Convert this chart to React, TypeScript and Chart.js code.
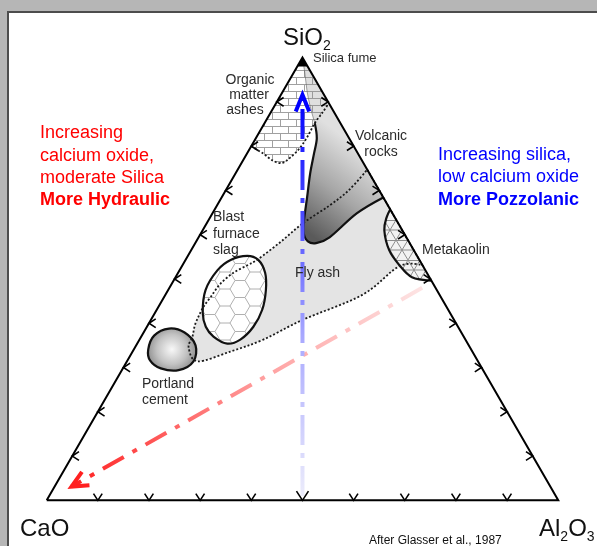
import React, { useEffect, useRef } from "react";
import { Chart, registerables } from "chart.js";

Chart.register(...registerables);

// Ternary compositions in percent: [CaO, SiO2, Al2O3]
type Tern = [number, number, number];

const TICKS = [10, 20, 30, 40, 50, 60, 70, 80, 90];
const TRIANGLE: Tern[] = [[100, 0, 0], [0, 0, 100], [0, 100, 0], [100, 0, 0]];

const SILICA_FUME: Tern[] = [[0, 100, 0], [2, 98, 0], [0, 98, 2]];

const ORGANIC_ASHES: Tern[] = [
  [20, 80, 0], [18.5, 78.3, 3.2], [17.4, 76.7, 5.9], [15.9, 76.2, 7.9], [13.7, 77.4, 8.9],
  [10.7, 79.6, 9.7], [7.8, 82.3, 9.9], [5.0, 85.2, 9.8], [2.5, 87.4, 10.1], [0, 89.7, 10.3], [0, 100, 0],
];

const VOLCANIC_ROCKS: Tern[] = [
  [5.0, 85.2, 9.8], [6.3, 81.8, 11.9], [8.6, 78.3, 13.1], [11.6, 73.8, 14.6], [14.9, 68.4, 16.7],
  [18.1, 63.2, 18.7], [19.6, 60.3, 20.1], [19.7, 58.5, 21.8], [18.3, 58.1, 23.6], [15.0, 59.4, 25.6],
  [7.0, 64.8, 28.2], [0, 68.4, 31.6], [0, 89.7, 10.3], [2.5, 87.4, 10.1],
];

const VOLCANIC_UPPER: Tern[] = [
  [0, 100, 0], [1.4, 96.2, 2.4], [2.9, 92.4, 4.7], [4.0, 89.0, 7.0], [5.0, 85.2, 9.8], [2.5, 87.4, 10.1], [0, 89.7, 10.3],
];

const FLY_ASH: Tern[] = [
  [53.0, 37.0, 10.0], [51.3, 39.5, 9.2], [49.4, 41.7, 8.9], [47.5, 43.7, 8.8], [44.9, 46.0, 9.1],
  [41.6, 48.9, 9.5], [37.8, 51.4, 10.8], [34.2, 53.1, 12.7], [31.4, 54.5, 14.1], [25.2, 58.3, 16.5],
  [18.6, 62.6, 18.8], [11.4, 66.6, 22.0], [5.7, 70.2, 24.1], [0, 74.7, 25.3], [0, 53.1, 46.9],
  [4.6, 52.9, 42.5], [15.1, 46.4, 38.5], [29.5, 40.8, 29.7], [39.5, 36.3, 24.2], [47.3, 33.6, 19.1],
  [54.8, 31.4, 13.8], [55.0, 34.5, 10.5],
];

const METAKAOLIN: Tern[] = [
  [0, 65.7, 34.3], [1.6, 63.9, 34.5], [3.5, 61.0, 35.5], [4.8, 56.5, 38.7], [4.5, 53.1, 42.4],
  [3.3, 50.4, 46.2], [0, 49.6, 50.4],
];

const BLAST_FURNACE_SLAG: Tern[] = [
  [48.3, 42.4, 9.3], [45.2, 47.5, 7.3], [40.6, 52.0, 7.4], [36.9, 54.3, 8.8], [33.2, 55.2, 11.6],
  [31.5, 54.3, 14.2], [31.6, 51.4, 17.0], [33.4, 47.5, 19.1], [36.3, 43.1, 20.6], [40.0, 39.2, 20.8],
  [44.0, 36.3, 19.7], [47.0, 35.4, 17.6], [48.9, 37.0, 14.1], [49.3, 39.2, 11.5],
];

const PORTLAND_CEMENT: Tern[] = [
  [63.1, 34.1, 2.8], [60.4, 37.2, 2.4], [56.7, 38.8, 4.5], [54.1, 37.9, 8.0], [53.4, 35.0, 11.6],
  [55.6, 31.4, 13.0], [59.5, 29.4, 11.1], [62.8, 29.8, 7.4], [64.0, 31.6, 4.4],
];

const BLUE_ARROW: Tern[] = [[49.5, 1.0, 49.5], [4.2, 91.6, 4.2]];
const RED_ARROW: Tern[] = [[2.6, 48.0, 49.4], [93.6, 3.1, 3.3]];

const toXY = (t: Tern) => ({ x: (t[2] + t[1] / 2) / 100, y: t[1] / 100 });

// ---- layout ----
const W = 597;
const H = 546;
const FONT = "'Liberation Sans', Arial, sans-serif";

type Region = {
  name: string;
  data: Tern[];
  fill: string;
  corners: number[];
  stroke?: "solid" | "faint";
  strokeSegs?: number;
};

const REGIONS: Region[] = [
  { name: "Fly ash", data: FLY_ASH, fill: "flyash", corners: [13, 14] },
  { name: "Organic matter ashes", data: ORGANIC_ASHES, fill: "bricks", corners: [0, 9, 10] },
  { name: "Volcanic rocks", data: VOLCANIC_ROCKS, fill: "volcanic", corners: [0, 11, 12], stroke: "solid", strokeSegs: 11 },
  { name: "Volcanic (upper)", data: VOLCANIC_UPPER, fill: "wash", corners: [0, 4, 6], stroke: "faint", strokeSegs: 4 },
  { name: "Metakaolin", data: METAKAOLIN, fill: "meta", corners: [0, 6], stroke: "solid", strokeSegs: 6 },
  { name: "Blast furnace slag", data: BLAST_FURNACE_SLAG, fill: "hex", corners: [], stroke: "solid" },
  { name: "Portland cement", data: PORTLAND_CEMENT, fill: "portland", corners: [], stroke: "solid" },
  { name: "Silica fume", data: SILICA_FUME, fill: "black", corners: [0, 1, 2] },
];
const DOTTED = ["Fly ash", "Organic matter ashes"];
const DOTTED_SEGS: Record<string, number | undefined> = { "Fly ash": undefined, "Organic matter ashes": 9 };

type P = { x: number; y: number };

function splinePath(ctx: CanvasRenderingContext2D, pts: P[], corners: number[], segs?: number) {
  const n = pts.length;
  const tan = pts.map((_, i) => {
    if (corners.includes(i)) return { x: 0, y: 0 };
    const a = pts[(i - 1 + n) % n];
    const b = pts[(i + 1) % n];
    return { x: (b.x - a.x) / 6, y: (b.y - a.y) / 6 };
  });
  ctx.beginPath();
  ctx.moveTo(pts[0].x, pts[0].y);
  const count = segs === undefined ? n : segs;
  for (let i = 0; i < count; i++) {
    const a = pts[i];
    const b = pts[(i + 1) % n];
    const ta = tan[i];
    const tb = tan[(i + 1) % n];
    ctx.bezierCurveTo(a.x + ta.x, a.y + ta.y, b.x - tb.x, b.y - tb.y, b.x, b.y);
  }
  if (segs === undefined) ctx.closePath();
}

function makePattern(ctx: CanvasRenderingContext2D, w: number, h: number, bg: string, draw: (g: CanvasRenderingContext2D) => void) {
  const c = document.createElement("canvas");
  c.width = w;
  c.height = h;
  const g = c.getContext("2d")!;
  if (bg) {
    g.fillStyle = bg;
    g.fillRect(0, 0, w, h);
  }
  draw(g);
  return ctx.createPattern(c, "repeat")!;
}

function bbox(pts: P[]) {
  const xs = pts.map((p) => p.x);
  const ys = pts.map((p) => p.y);
  return { x0: Math.min(...xs), x1: Math.max(...xs), y0: Math.min(...ys), y1: Math.max(...ys) };
}

const REGION_OFFSET = 3; // datasets 0..2 are arrows + triangle

const diagramPlugin = {
  id: "ternaryDiagram",
  beforeDraw(chart: any) {
    const ctx: CanvasRenderingContext2D = chart.ctx;
    ctx.save();
    ctx.fillStyle = "#b6b6b6";
    ctx.fillRect(0, 0, W, H);
    ctx.fillStyle = "#ffffff";
    ctx.fillRect(8, 12, W - 8, H - 12);
    ctx.strokeStyle = "#4d4d4d";
    ctx.lineWidth = 2;
    ctx.beginPath();
    ctx.moveTo(8, H);
    ctx.lineTo(8, 12);
    ctx.lineTo(W, 12);
    ctx.stroke();
    ctx.restore();
  },
  beforeDatasetsDraw(chart: any) {
    const ctx: CanvasRenderingContext2D = chart.ctx;
    const pats: Record<string, any> = {
      bricks: makePattern(ctx, 16, 14, "#ffffff", (g) => {
        g.strokeStyle = "#a0a0a0";
        g.lineWidth = 1;
        g.beginPath();
        g.moveTo(0, 0.5); g.lineTo(16, 0.5);
        g.moveTo(0, 7.5); g.lineTo(16, 7.5);
        g.moveTo(0.5, 0); g.lineTo(0.5, 7.5);
        g.moveTo(8.5, 7.5); g.lineTo(8.5, 14);
        g.stroke();
      }),
      hex: makePattern(ctx, 30, 17, "#ffffff", (g) => {
        const s = 10, h = 17;
        g.strokeStyle = "#b0b0b0";
        g.lineWidth = 1;
        g.beginPath();
        g.moveTo(0, h / 2); g.lineTo(0.5 * s, h / 2);
        g.lineTo(s, 0); g.lineTo(2 * s, 0); g.lineTo(2.5 * s, h / 2);
        g.lineTo(2 * s, h); g.lineTo(s, h); g.lineTo(0.5 * s, h / 2);
        g.moveTo(2.5 * s, h / 2); g.lineTo(3 * s, h / 2);
        g.stroke();
      }),
      meta: makePattern(ctx, 12, 20, "#f2f2f2", (g) => {
        g.strokeStyle = "#8c8c8c";
        g.lineWidth = 1;
        g.beginPath();
        g.moveTo(0, 0); g.lineTo(12, 20);
        g.moveTo(12, 0); g.lineTo(0, 20);
        g.moveTo(0, 0.5); g.lineTo(12, 0.5);
        g.moveTo(0, 10); g.lineTo(12, 10);
        g.stroke();
      }),
    };
    const ptsOf = (i: number): P[] => chart.getDatasetMeta(i + REGION_OFFSET).data.map((e: any) => ({ x: e.x, y: e.y }));

    ctx.save();
    REGIONS.forEach((r, i) => {
      const pts = ptsOf(i);
      const b = bbox(pts);
      splinePath(ctx, pts, r.corners);
      let fs: any = "#e3e3e3";
      if (r.fill === "flyash") fs = "#e4e4e4";
      else if (r.fill === "bricks" || r.fill === "hex" || r.fill === "meta") fs = pats[r.fill];
      else if (r.fill === "volcanic") {
        const w = b.x1 - b.x0, h = b.y1 - b.y0;
        const g = ctx.createLinearGradient(b.x0, b.y1 - h * 0.1, b.x0 + w * 0.75, b.y0 + h * 0.35);
        g.addColorStop(0, "#5a5a5a");
        g.addColorStop(0.5, "#a6a6a6");
        g.addColorStop(1, "#e0e0e0");
        fs = g;
      } else if (r.fill === "wash") fs = "rgba(140,140,140,0.28)";
      else if (r.fill === "portland") {
        const cx = (b.x0 + b.x1) / 2, cy = (b.y0 + b.y1) / 2;
        const g = ctx.createRadialGradient(cx, cy, 0, cx, cy, Math.max(b.x1 - b.x0, b.y1 - b.y0) * 0.58);
        g.addColorStop(0, "#f8f8f8");
        g.addColorStop(0.55, "#c2c2c2");
        g.addColorStop(1, "#828282");
        fs = g;
      } else if (r.fill === "black") fs = "#000000";
      ctx.fillStyle = fs;
      ctx.fill();
      if (r.stroke) {
        splinePath(ctx, pts, r.corners, r.strokeSegs);
        ctx.setLineDash([]);
        ctx.lineWidth = r.stroke === "solid" ? 2.2 : 1;
        ctx.strokeStyle = r.stroke === "solid" ? "#111111" : "rgba(90,90,90,0.55)";
        ctx.stroke();
      }
    });
    // dotted boundaries
    REGIONS.forEach((r, i) => {
      if (!DOTTED.includes(r.name)) return;
      const pts = ptsOf(i);
      splinePath(ctx, pts, r.corners, DOTTED_SEGS[r.name]);
      ctx.setLineDash([2, 2]);
      ctx.lineWidth = 1.8;
      ctx.strokeStyle = "#1a1a1a";
      ctx.stroke();
    });
    ctx.restore();
  },
  afterDatasetsDraw(chart: any) {
    const ctx: CanvasRenderingContext2D = chart.ctx;
    const sx = chart.scales.x, sy = chart.scales.y;
    const px = (t: Tern): P => {
      const q = toXY(t);
      return { x: sx.getPixelForValue(q.x), y: sy.getPixelForValue(q.y) };
    };
    ctx.save();
    // ticks
    ctx.strokeStyle = "#000";
    ctx.lineWidth = 1.6;
    ctx.setLineDash([]);
    const a = (33 * Math.PI) / 180;
    const chev = (p: P, a1: P, a2: P) => {
      ctx.beginPath();
      ctx.moveTo(p.x + a1.x, p.y + a1.y);
      ctx.lineTo(p.x, p.y);
      ctx.lineTo(p.x + a2.x, p.y + a2.y);
      ctx.stroke();
    };
    TICKS.forEach((t) => {
      const L = t === 50 ? 11 : 8;
      const pb = px([100 - t, 0, t]);
      chev(pb, { x: -Math.sin(a) * L, y: -Math.cos(a) * L }, { x: Math.sin(a) * L, y: -Math.cos(a) * L });
      const l = 8;
      const pl = px([100 - t, t, 0]);
      chev(pl, { x: Math.cos(a) * l, y: -Math.sin(a) * l }, { x: Math.cos(a) * l, y: Math.sin(a) * l });
      const pr = px([0, t, 100 - t]);
      chev(pr, { x: -Math.cos(a) * l, y: -Math.sin(a) * l }, { x: -Math.cos(a) * l, y: Math.sin(a) * l });
    });
    // arrowheads
    const head = (dsIndex: number, color: string, len: number, half: number) => {
      const d = chart.getDatasetMeta(dsIndex).data;
      const tip = d[d.length - 1], prev = d[d.length - 2];
      const ang = Math.atan2(prev.y - tip.y, prev.x - tip.x);
      ctx.strokeStyle = color;
      ctx.lineWidth = 4;
      ctx.lineCap = "butt";
      ctx.lineJoin = "miter";
      chev(
        { x: tip.x, y: tip.y },
        { x: Math.cos(ang - half) * len, y: Math.sin(ang - half) * len },
        { x: Math.cos(ang + half) * len, y: Math.sin(ang + half) * len }
      );
    };
    head(0, "#0000ff", 18, (22 * Math.PI) / 180);
    head(1, "#ff2020", 18, (25 * Math.PI) / 180);

    // texts
    const text = (s: string, x: number, y: number, size: number, color: string, opts: { bold?: boolean; align?: CanvasTextAlign } = {}) => {
      ctx.font = `${opts.bold ? "bold " : ""}${size}px ${FONT}`;
      ctx.fillStyle = color;
      ctx.textAlign = opts.align || "left";
      ctx.textBaseline = "alphabetic";
      ctx.fillText(s, x, y);
      return ctx.measureText(s).width;
    };
    const rich = (parts: [string, boolean][], x: number, y: number) => {
      let cx = x;
      parts.forEach(([s, sub]) => {
        cx += text(s, cx, sub ? y + 5 : y, sub ? 14 : 24, "#111");
      });
    };
    rich([["SiO", false], ["2", true]], 283, 45);
    rich([["CaO", false]], 20, 536);
    rich([["Al", false], ["2", true], ["O", false], ["3", true]], 539, 536);

    const lab = "#2b2b2b";
    text("Silica fume", 313, 62, 13, lab);
    text("Organic", 250, 84, 14, lab, { align: "center" });
    text("matter", 249, 99, 14, lab, { align: "center" });
    text("ashes", 245, 114, 14, lab, { align: "center" });
    text("Volcanic", 381, 140, 14, lab, { align: "center" });
    text("rocks", 381, 156, 14, lab, { align: "center" });
    text("Blast", 213, 221, 14, lab);
    text("furnace", 213, 238, 14, lab);
    text("slag", 213, 254, 14, lab);
    text("Fly ash", 295, 277, 14, lab);
    text("Metakaolin", 422, 254, 14, lab);
    text("Portland", 142, 388, 14, lab);
    text("cement", 142, 404, 14, lab);

    const red = "#ff0000";
    text("Increasing", 40, 138, 18, red);
    text("calcium oxide,", 40, 161, 18, red);
    text("moderate Silica", 40, 183, 18, red);
    text("More Hydraulic", 40, 205, 18, red, { bold: true });
    const blue = "#0000ff";
    text("Increasing silica,", 438, 160, 18, blue);
    text("low calcium oxide", 438, 182, 18, blue);
    text("More Pozzolanic", 438, 205, 18, blue, { bold: true });

    text("After Glasser et al., 1987", 369, 544, 12, "#111");
    ctx.restore();
  },
};

function lineGradient(context: any, line: Tern[], stops: [number, string][]) {
  const chart = context.chart;
  if (!chart.chartArea || !chart.scales.x) return stops[stops.length - 1][1];
  const sx = chart.scales.x, sy = chart.scales.y;
  const a = toXY(line[0]), b = toXY(line[line.length - 1]);
  const g = chart.ctx.createLinearGradient(
    sx.getPixelForValue(a.x), sy.getPixelForValue(a.y),
    sx.getPixelForValue(b.x), sy.getPixelForValue(b.y)
  );
  stops.forEach(([o, c]) => g.addColorStop(o, c));
  return g;
}

export default function App() {
  const ref = useRef<HTMLCanvasElement | null>(null);
  useEffect(() => {
    document.body.style.margin = "0";
    const canvas = ref.current!;
    const datasets: any[] = [
      {
        label: "Increasing silica",
        data: BLUE_ARROW.map(toXY),
        showLine: true,
        pointRadius: 0,
        borderWidth: 4,
        borderDash: [30, 8, 5, 8],
        borderCapStyle: "butt",
        borderColor: (c: any) =>
          lineGradient(c, BLUE_ARROW, [[0, "#ececfb"], [0.4, "#a8a8ff"], [0.7, "#4b4bff"], [1, "#0000ff"]]),
      },
      {
        label: "Increasing calcium oxide",
        data: RED_ARROW.map(toXY),
        showLine: true,
        pointRadius: 0,
        borderWidth: 4,
        borderDash: [24, 10, 5, 10],
        borderCapStyle: "butt",
        borderColor: (c: any) =>
          lineGradient(c, RED_ARROW, [[0, "#fde4e4"], [0.45, "#ffa0a0"], [1, "#ff1f1f"]]),
      },
      {
        label: "Triangle",
        data: TRIANGLE.map(toXY),
        showLine: true,
        pointRadius: 0,
        borderWidth: 2,
        borderColor: "#000000",
        borderJoinStyle: "miter",
      },
      ...REGIONS.map((r) => ({
        label: r.name,
        data: r.data.map(toXY),
        showLine: false,
        pointRadius: 0,
        pointHoverRadius: 0,
      })),
    ];
    const chart = new Chart(canvas, {
      type: "scatter",
      data: { datasets },
      options: {
        animation: false,
        responsive: false,
        maintainAspectRatio: false,
        devicePixelRatio: 1,
        events: [],
        layout: { padding: 0 },
        plugins: { legend: { display: false }, tooltip: { enabled: false } },
        scales: {
          x: { type: "linear", display: false, min: -45 / 515, max: 552 / 515 },
          y: { type: "linear", display: false, min: -44 / 446, max: 502 / 446 },
        },
      },
      plugins: [diagramPlugin],
    } as any);
    chart.update();
    return () => chart.destroy();
  }, []);
  return (
    <canvas
      ref={ref}
      width={W}
      height={H}
      style={{ position: "fixed", left: 0, top: 0, display: "block", width: W, height: H }}
    />
  );
}
